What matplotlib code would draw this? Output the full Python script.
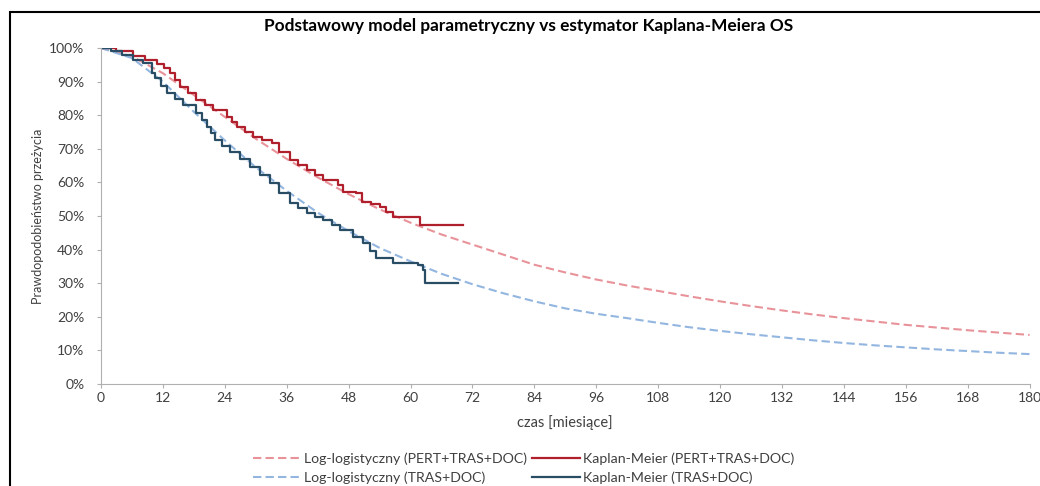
import matplotlib.pyplot as plt
from matplotlib.patches import Rectangle
from matplotlib.ticker import PercentFormatter

plt.rcParams['font.family'] = ['Lato', 'DejaVu Sans']

# krzywe log-logistyczne odczytane co 6 miesiecy
ll_months = [0, 6, 12, 18, 24, 30, 36, 42, 48, 54, 60, 66, 72, 78, 84, 90,
             96, 102, 108, 114, 120, 126, 132, 138, 144, 150, 156, 162, 168, 174, 180]
ll_pert = [100, 97.5, 92.5, 86, 79.5, 73, 67, 61.5, 56.5, 52, 48, 44.5, 41.5, 38.5, 35.5, 33.2,
           31.1, 29.3, 27.7, 26.1, 24.6, 23.2, 21.9, 20.7, 19.6, 18.6, 17.6, 16.8, 16.0, 15.3, 14.6]
ll_tras = [100, 97, 90, 81, 72.5, 64.5, 57.5, 51, 45.5, 40.5, 36.5, 32.8, 29.7, 27, 24.6, 22.5,
           20.9, 19.6, 18.2, 16.9, 15.8, 14.8, 13.9, 13.0, 12.2, 11.5, 10.9, 10.3, 9.8, 9.3, 8.9]

# Kaplan-Meier (czas, przezycie po zdarzeniu)
km_pert_t = [0, 3, 6.3, 8.5, 10.8, 12.2, 13.4, 14.3, 15.3, 16.8, 18.5, 20.2, 21.8, 24.4, 25.4,
             26.3, 28, 29.5, 31.2, 33.1, 34.5, 36.6, 38.2, 39.9, 41.5, 43.1, 46.0, 47.0, 49.5,
             50.5, 52.3, 54.1, 55.3, 56.6, 61.8, 70.2]
km_pert = [100, 99.0, 97.5, 96.5, 95.2, 94, 92.5, 90.5, 88.5, 86.5, 84.5, 83, 81.5, 79.6, 78,
           76.6, 75, 73.6, 72.6, 71.6, 69, 66.7, 65.2, 63.7, 62.2, 60.7, 59.2, 57.2, 56.8,
           54.3, 53.5, 52.8, 51.3, 49.8, 47.3, 47.3]
km_tras_t = [0, 2, 4, 6.3, 8.2, 9.8, 10.5, 11.6, 12.7, 14.3, 15.9, 18.5, 19.5, 20.5, 21.3, 22.1,
             23.5, 25.0, 27, 28.9, 30.8, 32.7, 34.6, 36.6, 38.2, 39.9, 41.5, 43.1, 44.7, 46.3,
             48.9, 50.8, 52.1, 53.4, 56.6, 61.5, 62.5, 62.8, 69.2]
km_tras = [100, 99, 98, 96.4, 95.4, 92.5, 91, 88.8, 86.5, 84.8, 83, 80.6, 78.6, 76.6, 74.6, 72.6,
           70.8, 69.1, 66.9, 64.7, 62.2, 59.7, 56.8, 53.8, 52.3, 50.8, 49.8, 48.8, 47.3, 45.8,
           43.8, 41.9, 39.6, 37.4, 35.9, 35.4, 33.9, 30.0, 30.0]

fig = plt.figure(figsize=(10.4, 4.86), dpi=100)
ax = fig.add_axes([0.0971, 0.2099, 0.8929, 0.6913])

ax.plot(ll_months, ll_pert, color='#E8939A', lw=1.5, dashes=(4, 2),
        label='Log-logistyczny (PERT+TRAS+DOC)')
ax.plot(ll_months, ll_tras, color='#93B6E0', lw=1.5, dashes=(4, 2),
        label='Log-logistyczny (TRAS+DOC)')
ax.step(km_pert_t, km_pert, where='post', color='#B0202C', lw=1.6,
        label='Kaplan-Meier (PERT+TRAS+DOC)')
ax.step(km_tras_t, km_tras, where='post', color='#2A4D66', lw=1.6,
        label='Kaplan-Meier (TRAS+DOC)')

ax.set_xlim(0, 180)
ax.set_ylim(0, 100)
ax.set_xticks(range(0, 181, 12))
ax.set_yticks(range(0, 101, 10))
ax.yaxis.set_major_formatter(PercentFormatter(decimals=0))
for s in ['top', 'right']:
    ax.spines[s].set_visible(False)
for s in ['left', 'bottom']:
    ax.spines[s].set_color('#B0B0B0')
ax.tick_params(colors='#B0B0B0', labelcolor='#404040', labelsize=10, length=3)
ax.tick_params(axis='y', pad=9)
ax.tick_params(axis='x', pad=3)

ax.set_title('Podstawowy model parametryczny vs estymator Kaplana-Meiera OS',
             fontsize=12.4, fontweight='bold', pad=12, x=0.46)
ax.set_xlabel('czas [miesiące]', fontsize=10.5, color='#404040', labelpad=8)
ax.set_ylabel('Prawdopodobieństwo przeżycia', fontsize=9, color='#404040', labelpad=4)

ax.legend(ncol=2, loc='upper center', bbox_to_anchor=(0.455, -0.175), frameon=False,
          fontsize=10.2, handlelength=3.4, columnspacing=0.3, handletextpad=0.2,
          labelspacing=0.45, labelcolor='#404040', borderpad=0.2)

fig.patches.append(Rectangle((10 / 1040, -0.05), 1.1, 1 - 12 / 486 + 0.05,
                             transform=fig.transFigure, fill=False, ec='black', lw=1.5))

fig.savefig('out.png', dpi=100)
